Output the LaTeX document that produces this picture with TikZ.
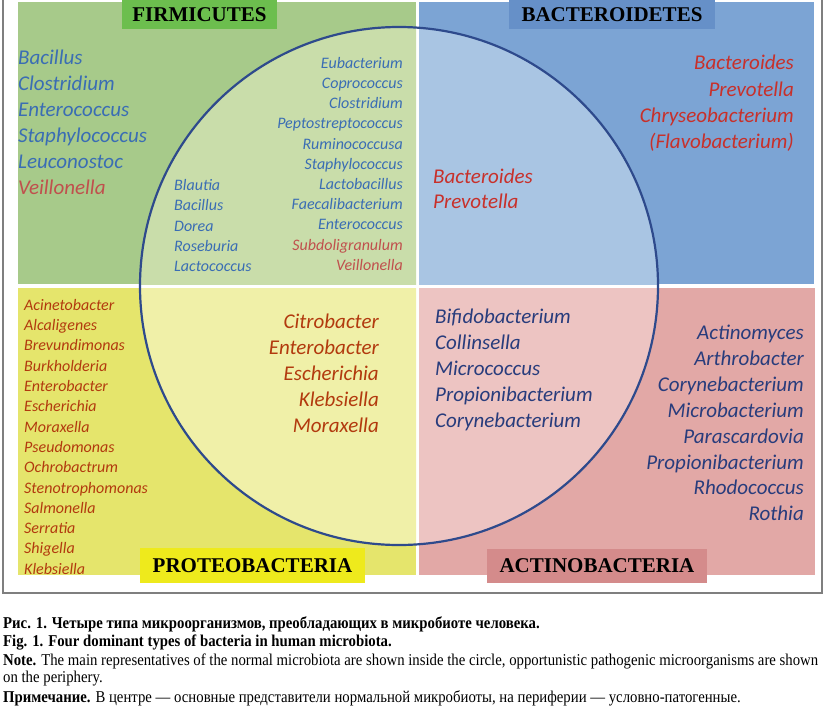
\documentclass[tikz,border=0pt]{standalone}
\usepackage{fontspec}
\setmainfont{Liberation Serif}
\newfontfamily\carl{Carlito}
\newfontfamily\capfont[FakeStretch=0.895]{Liberation Serif}
\definecolor{gOut}{HTML}{A7CA8A}
\definecolor{gIn}{HTML}{C9DDAA}
\definecolor{bOut}{HTML}{7CA4D4}
\definecolor{bIn}{HTML}{A9C5E3}
\definecolor{yOut}{HTML}{E5E56C}
\definecolor{yIn}{HTML}{F0F0A8}
\definecolor{pOut}{HTML}{E2A8A6}
\definecolor{pIn}{HTML}{EDC4C2}
\definecolor{gHdr}{HTML}{6CBE4E}
\definecolor{bHdr}{HTML}{6690C8}
\definecolor{yHdr}{HTML}{EEEA1C}
\definecolor{pHdr}{HTML}{D48B8B}
\definecolor{tBlue}{HTML}{3A6DB4}
\definecolor{tBrick}{HTML}{C0504D}
\definecolor{tRed}{HTML}{C8302A}
\definecolor{tOrange}{HTML}{B23A0E}
\definecolor{tNavy}{HTML}{283C7C}
\definecolor{ring}{HTML}{2E4A8C}
\definecolor{frame}{HTML}{7F7F7F}
\begin{document}
\begin{tikzpicture}[x=1pt,y=-1pt,
  big/.style={font=\carl\itshape\fontsize{21}{25}\selectfont, inner sep=0pt},
  small/.style={font=\carl\itshape\fontsize{16}{19}\selectfont, inner sep=0pt},
  hdr/.style={font=\bfseries\fontsize{21}{25}\selectfont, inner sep=0pt, text=black},
  captext/.style={font=\capfont\fontsize{16.5}{19}\selectfont, inner sep=0pt, anchor=mid west}]
\useasboundingbox (0,0) rectangle (825,710);
\fill[white] (0,0) rectangle (825,710);
% quadrants
\fill[gOut] (18,2) rectangle (416,284);
\fill[bOut] (419,2) rectangle (814,284);
\fill[yOut] (18,288) rectangle (416,575);
\fill[pOut] (419,288) rectangle (815,575);
\begin{scope}\clip (18,2) rectangle (416,284);\fill[gIn] (399,286) circle[radius=259pt];\end{scope}
\begin{scope}\clip (419,2) rectangle (814,284);\fill[bIn] (399,286) circle[radius=259pt];\end{scope}
\begin{scope}\clip (18,288) rectangle (416,575);\fill[yIn] (399,286) circle[radius=259pt];\end{scope}
\begin{scope}\clip (419,288) rectangle (815,575);\fill[pIn] (399,286) circle[radius=259pt];\end{scope}
\draw[ring, line width=2.2pt] (399,286) circle[radius=259pt];
% frame
\draw[frame, line width=1.5pt] (3,0) -- (3,593) -- (822,593) -- (822,0);
% headers
\node[hdr, fill=gHdr, minimum width=155pt, minimum height=29pt] (hF) at (199.5,14.5) {FIRMICUTES};
\node[hdr, fill=bHdr, minimum width=206pt, minimum height=29pt] (hB) at (612,14.5) {BACTEROIDETES};
\node[hdr, fill=yHdr, minimum width=225pt, minimum height=35pt] (hP) at (252.5,565.5) {PROTEOBACTERIA};
\node[hdr, fill=pHdr, minimum width=220pt, minimum height=34pt] (hA) at (597,566) {ACTINOBACTERIA};
% Firmicutes outer
\foreach \t [count=\i from 0] in {Bacillus,Clostridium,Enterococcus,Staphylococcus,Leuconostoc}
  \node[big, text=tBlue, anchor=mid west] (fo\i) at (18,62.5+26*\i) {\t};
\node[big, text=tBrick, anchor=mid west] (fo5) at (18,192.5) {Veillonella};
% Firmicutes inner right
\foreach \t [count=\i from 0] in {Eubacterium,Coprococcus,Clostridium,Peptostreptococcus,Ruminococcusa,Staphylococcus,Lactobacillus,Faecalibacterium,Enterococcus}
  \node[small, text=tBlue, anchor=mid east] (fr\i) at (403,66+20.2*\i) {\t};
\node[small, text=tBrick, anchor=mid east] (fr9) at (403,248) {Subdoligranulum};
\node[small, text=tBrick, anchor=mid east] (fr10) at (403,268) {Veillonella};
% Firmicutes inner left
\foreach \t [count=\i from 0] in {Blautia,Bacillus,Dorea,Roseburia,Lactococcus}
  \node[small, text=tBlue, anchor=mid west] (fl\i) at (174,188+20.4*\i) {\t};
% Bacteroidetes
\foreach \t [count=\i from 0] in {Bacteroides,Prevotella,Chryseobacterium,{(Flavobacterium)}}
  \node[big, text=tRed, anchor=mid east] (bo\i) at (794,67.5+26.3*\i) {\t};
\foreach \t [count=\i from 0] in {Bacteroides,Prevotella}
  \node[big, text=tRed, anchor=mid west] (bi\i) at (433,181.5+25*\i) {\t};
% Proteobacteria
\foreach \t [count=\i from 0] in {Acinetobacter,Alcaligenes,Brevundimonas,Burkholderia,Enterobacter,Escherichia,Moraxella,Pseudomonas,Ochrobactrum,Stenotrophomonas,Salmonella,Serratia,Shigella,Klebsiella}
  \node[small, text=tOrange, anchor=mid west] (po\i) at (24,308+20.3*\i) {\t};
\foreach \t [count=\i from 0] in {Citrobacter,Enterobacter,Escherichia,Klebsiella,Moraxella}
  \node[big, text=tOrange, anchor=mid east] (pi\i) at (379,326.5+26*\i) {\t};
% Actinobacteria
\foreach \t [count=\i from 0] in {Bifidobacterium,Collinsella,Micrococcus,Propionibacterium,Corynebacterium}
  \node[big, text=tNavy, anchor=mid west] (ai\i) at (435,321.5+26*\i) {\t};
\foreach \t [count=\i from 0] in {Actinomyces,Arthrobacter,Corynebacterium,Microbacterium,Parascardovia,Propionibacterium,Rhodococcus,Rothia}
  \node[big, text=tNavy, anchor=mid east] (ao\i) at (804,337.5+25.86*\i) {\t};
% caption
\node[captext] (c1) at (3,626) {\bfseries Рис. 1. Четыре типа микроорганизмов, преобладающих в микробиоте человека.};
\node[captext] (c2) at (3,644) {\bfseries Fig. 1. Four dominant types of bacteria in human microbiota.};
\node[captext] (c3) at (3,663) {\textbf{Note.} The main representatives of the normal microbiota are shown inside the circle, opportunistic pathogenic microorganisms are shown};
\node[captext] (c4) at (3,680) {on the periphery.};
\node[captext] (c5) at (3,700) {\textbf{Примечание.} В центре — основные представители нормальной микробиоты, на периферии — условно-патогенные.};
\end{tikzpicture}
\end{document}
